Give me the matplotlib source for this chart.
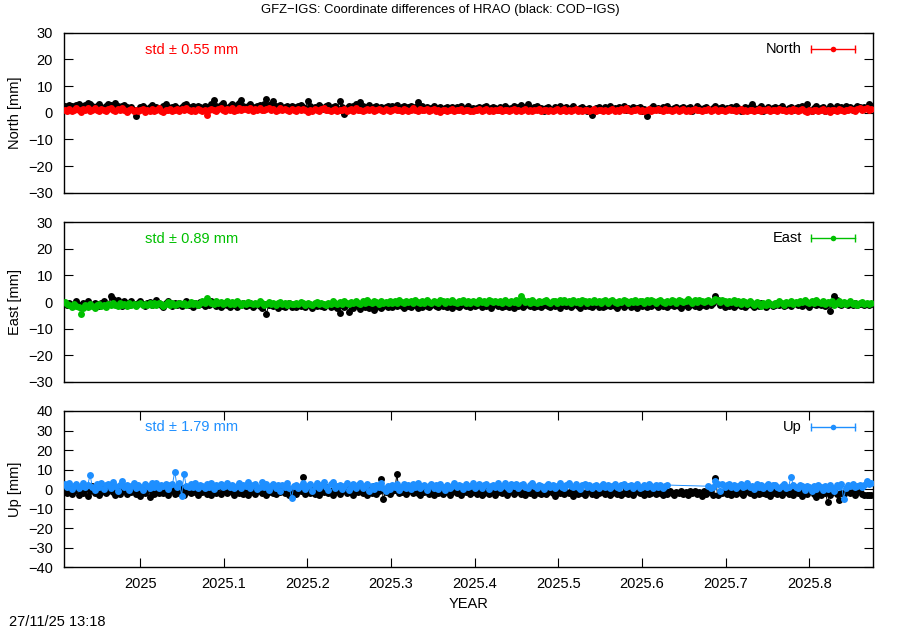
import numpy as np
import matplotlib
matplotlib.use("Agg")
import matplotlib.pyplot as plt

plt.rcParams['font.family'] = ['Liberation Sans', 'DejaVu Sans']
plt.rcParams['font.size'] = 10.5

# ---------------- data ----------------
start_year = 2024.910
days_per_year = 365.25
nan = float('nan')

title = "GFZ\u2212IGS: Coordinate differences of HRAO (black: COD\u2212IGS)"
components = ["North", "East", "Up"]
std_values = [0.55, 0.89, 1.79]
colors = ["#ff0000", "#00c000", "#1e8fff"]
ylims = [(-30, 30), (-30, 30), (-40, 40)]
err_values = [0.4, 0.4, 1.0]
x_ticks = [2025.0, 2025.1, 2025.2, 2025.3, 2025.4, 2025.5, 2025.6, 2025.7, 2025.8]
x_ticklabels = ["2025", "2025.1", "2025.2", "2025.3", "2025.4", "2025.5", "2025.6", "2025.7", "2025.8"]
timestamp = "27/11/25 13:18"

north_cod = [
    2.6, 2.2, 3.0, 2.4, 1.9, 2.8, 3.4, 2.5, 2.1, 2.9,
    3.6, 3.2, 2.4, 2.0, 2.7, 3.1, 2.3, 1.8, 2.6, 3.3,
    2.9, 2.2, 3.5, 2.7, 1.6, 2.4, 3.0, 2.1, 1.4, 2.3,
    0.9, -1.1, 1.2, 2.0, 2.6, 1.9, 1.5, 2.2, 2.8, 1.7,
    2.1, 1.3, 1.9, 2.5, 3.4, 2.2, 1.6, 2.0, 2.7, 1.8,
    1.4, 2.3, 2.9, 3.3, 2.1, 1.7, 2.4, 1.5, 2.6, 2.0,
    1.8, 2.7, 2.2, 1.3, 3.1, 4.7, 2.5, 1.9, 2.8, 3.6,
    2.3, 1.7, 2.6, 3.3, 2.0, 2.9, 3.5, 4.7, 2.4, 1.8,
    2.7, 3.2, 2.1, 1.6, 2.5, 3.0, 2.2, 3.4, 5.3, 2.8,
    3.1, 4.3, 2.6, 2.0, 2.9, 1.5, 2.3, 2.7, 1.8, 2.4,
    2.0, 1.6, 2.5, 2.9, 2.2, 1.4, 4.3, 2.6, 1.9, 2.3,
    1.7, 2.8, 2.1, 1.5, 2.4, 3.0, 1.8, 2.2, 2.6, 1.3,
    4.3, 2.0, -0.5, 1.6, 2.5, 1.9, 2.7, 3.2, 2.1, 4.1,
    2.4, 1.7, 2.2, 2.9, 1.5, 2.0, 2.6, 1.8, 2.3, 1.4,
    2.1, 2.7, 1.6, 2.4, 1.9, 2.8, 1.3, 2.2, 2.5, 1.7,
    2.0, 2.6, 1.5, 2.3, 4.1, 1.8, 2.4, 1.6, 2.1, 1.2,
    1.9, 2.5, 1.4, 1.8, 2.2, 1.0, 1.7, 2.3, 1.5, 2.0,
    1.3, 2.1, 1.6, 2.6, 1.1, 1.8, 2.4, 1.5, 1.9, 0.9,
    1.7, 2.2, 1.4, 2.0, 2.7, 1.2, 1.8, 2.3, 1.6, 1.1,
    2.0, 1.5, 2.4, 1.7, 1.0, 1.9, 2.5, 1.4, 2.1, 2.8,
    1.6, 2.2, 3.3, 1.8, 1.3, 2.0, 2.6, 1.5, 1.9, 0.8,
    1.7, 2.3, 1.4, 1.1, 2.0, 1.6, 2.4, 1.2, 1.8, 2.1,
    1.3, 1.9, 2.5, 1.5, 1.0, 1.7, 2.2, 1.4, 0.6, 1.8,
    -1.0, 1.2, 1.9, 2.3, 1.5, 1.1, 2.0, 1.6, 2.4, 1.3,
    1.8, 1.0, 2.1, 1.5, 2.6, 1.2, 1.7, 0.9, 2.0, 1.4,
    1.6, 2.2, 0.7, 1.3, -1.2, 1.1, 1.8, 2.4, 1.5, 1.9,
    1.2, 2.0, 1.6, 2.5, 1.3, 0.9, 1.7, 2.2, 1.4, 1.8,
    2.3, 1.1, 1.6, 2.0, 0.8, 1.5, 2.4, 1.9, 1.2, 1.7,
    2.1, 1.4, 0.9, 1.8, 2.5, 1.3, 1.6, 2.2, 1.0, 1.7,
    1.5, 2.0, 1.2, 2.6, 1.8, 0.7, 1.4, 2.1, 1.6, 2.3,
    3.3, 1.9, 1.2, 1.6, 2.4, 0.8, 1.5, 2.0, 1.3, 1.8,
    2.2, 1.0, 1.7, 2.5, 1.4, 0.9, 1.9, 2.3, 1.1, 1.6,
    2.0, 1.5, 2.7, 1.8, 3.3, 1.2, 0.6, 1.9, 2.4, 1.4,
    1.7, 2.2, 0.8, 1.5, 2.6, 1.9, 1.1, 2.4, 1.6, 2.1,
    1.3, 2.5, 1.8, 2.2, 1.0, 1.7, 2.6, 2.0, 1.4, 2.3,
    1.8, 3.1, 2.4,
]

north_gfz = [
    1.2, 0.8, 1.5, 0.6, 1.1, 1.7, 0.9, 0.4, 1.3, 1.0,
    1.6, 0.7, 1.2, 1.9, 1.0, 0.5, 1.4, 1.1, 0.8, 1.5,
    1.8, 1.2, 0.6, 1.3, 0.9, 1.6, 1.1, 0.4, 1.0, 1.4,
    0.7, 1.2, 0.5, 0.9, 1.5, 0.3, 1.1, 0.8, 1.3, 0.6,
    1.0, 1.6, 0.8, 0.4, 1.2, 0.9, 1.5, 0.7, 1.1, 1.4,
    0.6, 1.3, 0.9, 1.7, 1.0, 0.5, 1.2, 0.8, 1.4, 1.1,
    0.7, 1.2, -0.9, 0.9, 1.5, 1.0, 0.6, 1.3, 1.8, 1.1,
    0.8, 1.4, 1.0, 1.6, 0.7, 1.2, 1.9, 0.9, 1.3, 1.5,
    1.1, 1.7, 0.8, 1.3, 1.0, 1.6, 1.2, 0.9, 1.4, 1.8,
    1.0, 1.5, 0.7, 1.2, 1.6, 0.9, 1.3, 1.1, 0.5, 1.4,
    1.0, 0.6, 1.3, 0.9, 1.5, 1.1, 0.4, 1.2, 0.8, 1.4,
    1.1, 0.7, 1.3, 1.6, 0.9, 1.2, 0.6, 1.0, 1.5, 0.8,
    1.2, 0.9, 1.4, 0.5, 1.1, 1.3, 0.8, 1.6, 1.0, 1.2,
    0.7, 1.1, 1.5, 0.9, 1.3, 0.6, 1.0, 1.4, 1.2, 0.8,
    1.3, 1.0, 0.6, 1.2, 1.5, 0.9, 1.1, 0.7, 1.4, 1.0,
    0.8, 1.2, 1.6, 1.0, 0.5, 1.3, 0.9, 1.1, 1.4, 0.7,
    1.0, 1.3, 0.8, 1.1, 0.4, 0.9, 1.2, 0.6, 1.0, 1.3,
    0.7, 1.1, 0.9, 1.4, 0.5, 1.0, 1.2, 0.8, 0.6, 1.1,
    0.9, 1.3, 0.7, 1.0, 1.5, 0.8, 1.2, 0.6, 1.1, 0.9,
    1.4, 0.7, 1.0, 1.2, 0.5, 0.9, 1.3, 0.8, 1.1, 0.6,
    1.0, 1.4, 0.8, 1.1, 0.7, 1.2, 0.9, 1.5, 0.6, 1.0,
    1.2, 0.8, 1.1, 0.5, 0.9, 1.3, 0.7, 1.0, 1.4, 0.8,
    1.1, 0.6, 1.0, 1.3, 0.8, 1.2, 0.5, 0.9, 1.1, 0.7,
    1.0, 1.3, 0.6, 0.9, 1.2, 0.8, 1.1, 0.5, 1.0, 1.4,
    0.8, 1.1, 0.7, 1.3, 0.9, 1.6, 1.0, 0.6, 1.2, 0.9,
    1.4, 0.8, 1.1, 0.5, 1.0, 1.3, 0.7, 1.2, 0.9, 1.5,
    1.0, 0.7, 1.3, 0.9, 1.2, 0.6, 1.1, 1.4, 0.8, 1.0,
    1.3, 0.8, 1.1, 0.6, 1.0, 1.4, 0.9, 1.2, 0.7, 1.1,
    0.9, 1.3, 0.8, 1.1, 1.5, 0.7, 1.0, 1.2, 0.6, 1.1,
    1.4, 0.9, 1.2, 0.7, 1.0, 1.3, 0.8, 1.1, 0.5, 0.9,
    1.2, 0.8, 1.0, 1.4, 0.7, 1.1, 0.9, 1.3, 0.6, 1.0,
    1.1, 0.7, 1.3, 0.9, 1.2, 0.5, 1.0, 0.8, 1.4, 1.1,
    0.6, 1.0, 1.3, 0.8, 0.4, 1.1, 0.7, 1.2, 0.9, 0.5,
    1.0, 1.3, 0.7, 1.1, 0.4, 0.9, 1.2, 0.8, 1.4, 1.0,
    0.7, 1.2, 0.9, 1.5, 1.1, 0.8, 1.3, 1.7, 1.0, 1.4,
    1.8, 1.2, 1.5,
]

east_cod = [
    -0.6, -1.2, -0.3, -1.5, -0.8, 0.2, -1.0, -1.7, -0.4, -0.9,
    0.4, -0.7, -1.3, -0.2, -0.9, -1.6, -0.5, 0.3, -1.1, -0.6,
    2.4, 1.1, -0.3, 0.6, -0.8, -1.4, 0.2, -0.5, -1.0, 0.5,
    -0.7, -1.3, -0.2, 0.4, -0.9, -1.5, -0.4, 0.1, -1.2, -0.6,
    0.6, -0.5, -1.0, -1.7, -0.3, 0.2, -0.8, -1.4, -0.5, -1.1,
    -0.2, -1.6, -0.9, 0.3, -1.2, -0.7, -1.8, -0.4, -1.0, 0.1,
    -0.9, -1.5, -0.6, -1.1, 0.2, -0.8, -1.4, -0.5, -1.9, -1.0,
    -0.3, -1.2, -1.7, -0.6, -1.0, -2.0, -0.7, -1.3, -0.4, -1.6,
    -1.1, -0.5, -1.8, -1.2, -0.7, -1.5, -2.1, -0.9, -4.4, -1.3,
    -0.8, -1.6, -1.1, -2.2, -0.6, -1.4, -1.9, -1.0, -0.5, -1.7,
    -1.2, -2.0, -0.8, -1.5, -1.0, -1.8, -0.6, -1.3, -2.3, -1.1,
    -1.6, -0.9, -1.4, -2.0, -1.2, -0.7, -1.9, -1.5, -1.0, -2.4,
    -4.1, -1.3, -1.8, -0.9, -3.9, -1.6, -2.2, -1.1, -1.5, -2.6,
    -1.0, -1.9, -1.4, -2.1, -0.8, -3.1, -1.7, -1.2, -2.3, -1.5,
    -0.9, -1.8, -1.3, -2.0, -1.1, -1.6, -0.7, -1.4, -2.2, -1.0,
    -1.5, -1.9, -0.8, -1.3, -2.1, -1.1, -1.7, -0.6, -1.4, -1.9,
    -1.2, -0.7, -1.6, -2.0, -1.0, -1.5, -0.9, -1.8, -1.3, -2.2,
    -0.8, -1.4, -1.9, -1.1, -0.6, -1.6, -1.2, -2.0, -0.9, -1.5,
    -1.3, -0.7, -1.8, -1.1, -1.5, -0.9, -2.1, -1.2, -0.6, -1.6,
    -1.0, -1.9, -1.4, -0.8, -1.7, -1.2, -2.2, -1.0, -1.5, -0.7,
    -1.8, -1.3, -0.9, -1.6, -1.1, -2.0, -1.4, -0.8, -1.7, -1.2,
    -0.6, -1.5, -1.9, -1.0, -1.4, -0.9, -2.1, -1.3, -0.7, -1.6,
    -1.1, -1.8, -1.2, -0.8, -1.5, -2.2, -1.0, -1.6, -0.9, -1.4,
    -1.9, -1.2, -0.7, -1.7, -1.1, -2.0, -1.4, -0.8, -1.6, -1.0,
    -1.5, -2.1, -1.2, -0.9, -1.7, -1.3, -0.6, -1.8, -1.1, -1.5,
    -2.3, -1.0, -1.4, -0.8, -1.9, -1.2, -1.6, -0.7, -1.3, -2.0,
    -1.1, -1.5, -0.9, -1.8, -1.2, -0.6, -1.6, -1.0, -1.4, -2.1,
    -0.8, -1.3, -1.9, -1.1, -0.7, -1.5, -1.0, -1.7, -1.2, -0.9,
    -1.6, -0.8, -1.3, -0.5, 2.4, 0.9, -1.2, -0.7, -1.8, -1.0,
    -1.4, -0.6, -1.9, -1.1, -0.8, -1.5, -1.0, -2.0, -1.3, -0.7,
    -1.2, -1.7, -0.9, -1.4, -0.5, -1.1, -1.8, -1.0, -0.6, -1.5,
    -1.0, -0.4, -1.3, -0.8, -1.6, -1.1, -0.7, -1.4, -0.9, -0.3,
    -1.2, -0.8, -1.5, -0.6, -1.0, -1.7, -0.9, -0.4, -1.3, -0.7,
    -1.1, -0.5, -1.4, -0.9, -3.5, -0.8, 2.1, 0.9, -0.6, -1.2,
    -0.4, -0.9, -1.3, -0.6, -1.0, -0.5, -1.2, -0.8, -0.3, -1.0,
    -0.7, -1.1, -0.6,
]

east_gfz = [
    0.0, -0.6, -1.2, -1.8, -0.9, -1.5, -2.0, -4.4, -2.2, -1.3,
    -1.7, -0.8, -1.4, -2.1, -1.0, -0.6, -1.6, -1.1, -1.9, -0.7,
    -1.3, -0.5, -1.0, -1.6, -0.4, -1.2, -0.8, -1.5, -0.3, -1.1,
    -0.6, -1.4, -0.9, -0.2, -1.1, -0.7, -1.3, -0.4, -1.0, -0.5,
    -1.2, -0.3, -0.8, -1.4, -0.6, -0.1, -1.0, -0.5, -1.3, -0.7,
    -0.2, -0.9, -0.4, -1.1, -0.6, 0.1, -0.8, -0.3, -1.0, -0.5,
    0.2, -0.4, 1.5, 0.5, -0.2, -0.7, 0.3, -0.5, -0.1, -0.9,
    -0.3, 0.2, -0.6, -0.1, -0.8, 0.3, -0.4, -1.0, -0.2, -0.6,
    0.1, -0.5, -0.9, -0.2, -0.7, 0.2, -0.4, -1.1, -0.6, -0.1,
    -0.8, -0.3, -1.2, -0.5, 0.0, -0.7, -0.4, -1.0, -0.2, -0.6,
    -0.9, -0.3, -0.7, 0.1, -0.5, -1.0, -0.2, -0.6, -1.2, -0.4,
    0.0, -0.8, -0.3, -0.6, -1.1, -0.2, -0.7, 0.2, -0.5, -0.9,
    -0.1, -0.6, 0.3, -0.4, -0.9, 0.0, -0.3, 0.5, -0.2, -0.7,
    0.2, -0.4, 0.6, -0.1, -0.5, 0.3, 0.0, -0.6, 0.4, -0.2,
    0.1, -0.5, 0.5, -0.2, 0.2, -0.4, 0.7, 0.0, -0.3, 0.4,
    -0.1, 0.3, -0.5, 0.6, 0.0, -0.3, 0.4, -0.2, 0.8, 0.1,
    -0.4, 0.5, 0.0, -0.2, 0.6, 0.2, -0.5, 0.3, -0.1, 0.7,
    0.1, -0.3, 0.4, 0.0, 0.8, -0.2, 0.3, -0.4, 0.5, 0.1,
    -0.2, 0.6, 0.0, 0.4, -0.3, 0.7, 0.2, -0.1, 0.5, 0.0,
    0.3, -0.4, 0.6, 0.1, -0.2, 0.5, 0.0, 0.8, -0.3, 2.4,
    0.6, 0.0, 0.4, -0.3, 0.7, 0.1, -0.2, 0.5, -0.1, 0.3,
    0.8, 0.0, -0.4, 0.5, 0.2, -0.2, 0.6, 0.1, 0.9, -0.1,
    0.4, -0.3, 0.7, 0.0, 0.3, -0.5, 0.6, 0.2, -0.2, 0.5,
    0.0, 0.8, -0.1, 0.4, -0.4, 0.2, 0.6, -0.2, 0.3, 0.9,
    0.1, -0.3, 0.5, 0.0, 0.7, 0.2, -0.4, 0.4, 0.1, 0.8,
    -0.1, 0.5, 0.2, -0.3, 0.6, 0.0, 0.9, 0.3, -0.2, 0.4,
    0.7, 0.1, -0.3, 0.5, 0.0, 0.8, 0.2, -0.2, 0.6, 0.3,
    -0.1, 0.4, 1.0, 0.2, -0.2, 0.6, 0.0, 0.9, 0.3, -0.1,
    0.5, 0.8, 0.1, 0.4, 1.2, 0.6, 0.0, 0.7, 0.3, -0.2,
    0.4, 0.0, 0.6, -0.3, 0.2, -0.6, 0.5, -0.1, -0.8, 0.3,
    -0.4, -1.2, 0.0, -0.7, -1.5, -0.3, -1.0, 0.1, -0.6, -1.3,
    -0.2, -0.8, 0.3, -0.5, -1.1, 0.0, -0.4, 0.4, -0.7, 0.1,
    -0.3, 0.5, -0.1, 0.7, 0.0, -0.5, 0.4, -0.2, 0.6, 0.1,
    -0.4, 0.3, -0.8, 0.0, -0.5, 0.2, -1.0, -0.3, 0.4, -0.6,
    0.0, -0.9, -0.4, 0.3, -0.7, -0.2, -1.1, -0.5, 0.1, -0.8,
    -0.3, -0.6, -0.4,
]

up_cod = [
    -0.8, -1.9, 0.5, -2.6, -1.2, 1.0, -3.1, -0.5, -1.8, 0.3,
    -3.4, -1.0, 1.5, -2.2, -0.4, -2.9, -1.4, 0.8, -2.0, -0.7,
    1.9, -1.6, -3.0, -0.2, -2.4, -1.1, 1.2, -2.7, -0.9, -1.7,
    0.6, -2.3, -1.3, -3.3, -0.6, -1.9, 0.9, -4.0, -1.5, -2.6,
    -0.3, -1.8, 1.1, -2.1, -0.8, -3.0, -1.2, 0.4, -2.5, -1.0,
    -1.9, 0.7, -2.8, -1.4, -0.5, -2.2, 1.3, -1.6, -3.2, -0.7,
    -1.3, 0.2, -2.4, -1.0, -3.0, -0.4, -1.8, 0.9, -2.6, -1.1,
    -0.6, -2.1, 1.0, -1.5, -2.9, -0.8, -1.9, 0.5, -2.3, -1.2,
    -3.1, -0.3, -1.6, -2.5, 0.8, -1.1, -2.0, -0.7, -2.8, -1.4,
    0.3, -1.9, -2.7, -0.9, -1.5, 1.1, -2.2, -1.0, -3.0, -0.5,
    -1.7, -2.4, 0.6, -1.2, 6.0, -2.6, -0.8, -1.9, 0.4, -2.3,
    -1.0, -2.8, -0.4, -1.6, 1.2, -2.1, -0.9, -3.2, -1.4, 0.2,
    -2.5, -1.1, -0.6, -2.0, 0.9, -1.7, -2.9, -0.8, -1.3, 0.5,
    -2.2, -1.0, -3.1, -0.5, -1.8, 1.4, -2.4, -0.9, 5.2, -5.0,
    -1.6, 0.7, -2.3, -1.1, -0.3, 7.6, -2.0, -1.5, 0.8, -2.7,
    -1.2, -0.6, -2.2, 1.0, -1.8, -2.9, -0.4, -1.4, 0.6, -2.5,
    -1.0, -3.0, -0.7, -1.9, 0.3, -2.4, -1.3, -0.5, -2.8, -1.6,
    0.4, -2.1, -1.2, -3.2, -0.8, -1.7, 0.1, -2.6, -1.4, -0.6,
    -2.3, -1.0, -3.0, -1.8, 0.2, -2.5, -1.3, -0.7, -2.9, -1.6,
    -0.4, -2.2, -1.1, -3.1, -1.7, 0.0, -2.6, -1.4, -0.8, -2.4,
    -1.5, -3.0, -0.6, -2.1, -1.2, -2.8, 0.3, -1.8, -2.5, -1.0,
    -2.7, -1.4, -0.5, -2.2, -3.3, -1.1, -1.9, -0.3, -2.6, -1.5,
    -2.0, -0.8, -3.4, -1.6, -2.3, -0.9, -1.8, -2.9, -1.2, -0.4,
    -2.4, -1.5, -3.0, -2.0, -0.9, -1.7, -2.6, -1.1, -3.2, -1.8,
    -0.6, -2.3, -1.4, -2.8, -1.9, 0.2, -2.5, -1.2, -3.1, -1.7,
    -0.8, -2.2, -1.5, -2.9, -1.0, -2.4, -1.8, -0.5, -2.7, -1.3,
    -2.0, -3.2, -1.1, -2.5, -0.7, -1.9, -2.8, -1.4, -2.2, -0.9,
    -2.6, -1.6, -3.0, -1.2, -2.1, -0.8, -2.4, -1.7, -3.3, -1.0,
    -2.3, -1.5, -0.6, -2.8, 5.8, -3.1, -1.4, -2.0, -0.9, -2.5,
    -1.7, -3.2, -1.1, -2.4, -0.7, -2.0, -2.9, -1.3, -0.5, -2.2,
    -1.6, -3.0, -1.0, -2.6, -0.4, -1.9, -2.7, -1.2, -3.5, -1.8,
    -0.8, -2.3, -1.4, -3.1, -0.2, -1.7, -2.5, -1.0, -2.9, -1.5,
    -2.2, -0.6, -3.3, -1.9, -2.6, -1.1, -0.3, -2.4, -4.0, -1.6,
    -2.8, -1.2, -2.0, -6.4, -3.0, -1.5, -0.7, -2.3, -5.6, -1.8,
    -2.6, -1.1, -0.5, -2.2, -1.4, -2.9, -1.7, -0.9, -2.4, -3.0,
    -3.1, -2.8, -3.2,
]

up_gfz = [
    2.4, 1.1, 3.0, 0.2, 1.8, 2.7, 0.5, 1.5, 3.3, 0.9,
    2.0, 7.3, 1.3, -0.4, 2.6, 1.0, 3.4, 0.3, 1.9, 2.8,
    0.7, 3.9, 1.6, -0.8, 2.3, 4.1, 0.9, 2.0, -0.5, 1.4,
    3.0, 0.6, 2.2, 1.3, -0.3, 2.5, 1.7, 0.8, 2.9, 1.2,
    3.4, 0.4, 2.1, 1.5, 2.8, 0.0, 1.9, 2.6, 9.0, 1.1,
    3.2, -3.3, 7.8, 1.6, 0.9, 2.4, 1.3, 3.0, 0.5, 2.2,
    1.7, 0.8, 2.7, 1.2, 3.1, 0.3, 2.0, 1.5, 2.6, 0.9,
    1.8, 3.3, 1.0, 2.3, 0.4, 1.6, 2.9, 0.7, 2.1, 1.4,
    3.5, 0.6, 1.9, 2.8, 0.2, 1.3, 3.7, 1.0, 2.4, -0.6,
    1.5, 2.7, 0.8, 1.9, -0.8, 2.2, 1.1, 3.0, 0.4, -4.4,
    1.6, 2.3, 0.5, 1.8, 3.1, 0.2, 1.4, 2.6, -0.9, 1.7,
    2.9, 0.7, 2.0, 3.6, 1.2, -0.3, 2.4, 3.7, 0.8, 1.5,
    2.2, 0.1, 1.7, 3.3, -0.6, 1.0, 2.5, 0.4, 1.9, 3.2,
    0.6, 1.4, 2.8, -1.0, 1.8, 0.3, 2.3, 1.1, 3.0, 0.5,
    -1.2, 1.6, 0.2, 2.1, 0.9, 2.7, -0.4, 1.3, 2.4, 0.7,
    1.9, 0.0, 2.6, 1.2, 3.0, 0.4, 1.7, 2.3, -0.2, 1.5,
    2.8, 0.6, 1.9, 0.1, 2.4, 1.3, -0.5, 2.0, 0.8, 1.6,
    3.1, 0.9, 2.2, 1.5, -0.1, 2.6, 1.0, 1.8, 3.3, 0.5,
    1.4, 2.5, 0.7, 1.9, 2.8, 0.3, 1.6, 2.2, 1.0, 2.9,
    0.6, 1.8, 3.0, 1.2, 0.2, 2.4, 1.5, 2.7, 0.8, 1.9,
    2.6, 1.1, 0.4, 2.0, 3.2, 1.4, 0.7, 2.3, 1.7, 0.1,
    1.5, 2.8, 1.0, 2.2, 0.5, 1.8, 2.9, 1.3, 0.6, 2.1,
    3.0, 1.6, 0.9, 2.4, 1.2, 0.3, 1.9, 2.6, 1.1, 2.0,
    0.7, 1.5, 2.3, 0.4, 1.8, 2.7, 1.0, 2.1, 0.5, 1.6,
    2.4, 1.2, 0.6, 1.9, 2.8, 0.9, 1.4, 2.2, 0.8, 1.7,
    2.5, 0.4, 1.3, 2.0, 1.0, 2.6, 1.5, 0.7, 1.9, 1.1,
    2.3, 0.8, 1.6, 2.1, nan, nan, nan, nan, nan, nan,
    nan, nan, nan, nan, nan, nan, nan, nan, nan, nan,
    nan, 1.5, 0.6, 1.2, 4.0, 2.7, -0.8, 2.4, 1.3, 2.0,
    2.8, 1.1, 2.2, 0.5, 1.7, 2.5, 0.9, 1.4, 2.9, 1.0,
    1.8, 0.3, 2.4, 1.2, 2.0, 0.6, 1.5, 2.7, 0.8, 1.9,
    2.3, 1.0, 0.4, 1.6, 2.6, 0.7, 1.3, 6.3, 2.2, 1.1,
    0.5, 2.0, 1.4, -0.4, 1.8, 0.9, -1.2, 1.5, 0.2, 2.1,
    1.0, -0.6, 1.6, 0.3, 2.3, 0.8, -1.0, 1.9, 1.2, 2.5,
    -4.8, 0.7, 2.0, 1.4, 2.6, 0.9, 1.8, 2.3, 1.1, 2.0,
    4.0, 2.5, 3.1,
]

cod_series = [north_cod, east_cod, up_cod]
gfz_series = [north_gfz, east_gfz, up_gfz]

# ---------------- figure ----------------
fig = plt.figure(figsize=(9, 6.3), dpi=100)
W, H = 900.0, 630.0
left_px, right_px = 64, 873
panels_px = [(32.7, 192.7), (222.3, 381.7), (411.0, 567.3)]

xmin, xmax = 2024.909, 2025.876

for k, comp in enumerate(components):
    top, bot = panels_px[k]
    ax = fig.add_axes([left_px / W, 1 - bot / H, (right_px - left_px) / W, (bot - top) / H])
    for series, col, z in ((cod_series[k], "black", 2), (gfz_series[k], colors[k], 3)):
        y = np.array(series, dtype=float)
        x = start_year + np.arange(len(y)) / days_per_year
        m = ~np.isnan(y)
        ax.errorbar(x[m], y[m], yerr=np.full(m.sum(), err_values[k]), fmt='-o', color=col,
                    ms=5.0, lw=0.7, elinewidth=0.6, capsize=0, mew=0, zorder=z)
    ax.set_xlim(xmin, xmax)
    lo, hi = ylims[k]
    ax.set_ylim(lo, hi)
    ax.set_yticks(np.arange(lo, hi + 1, 10))
    ax.tick_params(axis='y', which='both', direction='in', length=6.5, width=0.8,
                   left=True, right=True, labelsize=10.5, pad=8)
    for sp in ax.spines.values():
        sp.set_linewidth(1.0)
    if k < 2:
        ax.tick_params(axis='x', which='both', bottom=False, top=False, labelbottom=False)
    else:
        ax.set_xticks(x_ticks)
        ax.set_xticklabels(x_ticklabels)
        ax.tick_params(axis='x', direction='in', length=6.5, width=0.8, top=True, bottom=True,
                       labelsize=10.5, pad=7)
        ax.set_xlabel("YEAR", fontsize=10.5, labelpad=4)
    ax.set_ylabel(f"{comp} [mm]", fontsize=10.5)
    ax.yaxis.set_label_coords(-0.052, 0.5)

    # std annotation
    ax.text(0.100, 0.895, f"std \u00b1 {std_values[k]:.2f} mm", transform=ax.transAxes,
            color=colors[k], fontsize=10.5, ha='left', va='center')
    # legend sample (horizontal error bar with point)
    ly = 0.9
    ax.text(0.912, ly, comp, transform=ax.transAxes, ha='right', va='center', fontsize=10.5)
    ax.plot([0.923, 0.978], [ly, ly], transform=ax.transAxes, color=colors[k], lw=1.0,
            clip_on=False, zorder=5)
    ax.plot([0.923, 0.978], [ly, ly], transform=ax.transAxes, ls='none', marker='|',
            ms=6, mew=1.0, color=colors[k], clip_on=False, zorder=5)
    ax.plot([0.9505], [ly], transform=ax.transAxes, marker='o', ms=4, mew=0,
            color=colors[k], clip_on=False, zorder=6)

fig.text(440 / W, 1 - 10 / H, title, ha='center', va='center', fontsize=9.4)
fig.text(9 / W, 1 - 622.5 / H, timestamp, ha='left', va='center', fontsize=10.5)

fig.savefig("out.png", dpi=100)
